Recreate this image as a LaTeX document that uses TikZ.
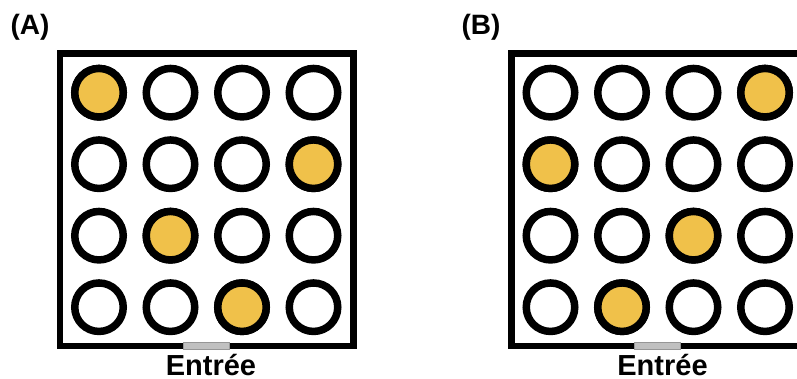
\documentclass[tikz,border=0pt]{standalone}
\usepackage{fontspec}
\setmainfont{Liberation Sans}
\begin{document}
\begin{tikzpicture}[x=1pt,y=-1pt,line join=miter]
	\definecolor{jaune}{RGB}{240,193,74}
	\definecolor{grisporte}{RGB}{192,192,192}
	\definecolor{grisbord}{RGB}{150,150,150}
	\useasboundingbox (0,0) rectangle (797,378);
	\clip (0,0) rectangle (797,378);
	
	\tikzset{puits/.style={draw=black,line width=7.5,fill=white}, %puits vide
		titre/.style={anchor=base,font=\bfseries\fontsize{28}{30}\selectfont},
		legende/.style={anchor=base,inner sep=0pt,text depth=0pt,font=\bfseries\fontsize{29}{31}\selectfont}}
	%%%%%%%%%%%%%%%%%%%%%%%%%%%%
	\tikzset{arene/.pic={
			\fill[white] (0,0) rectangle (293.5,292.5);
			\draw[line width=6.5] (0,0) rectangle (293.5,292.5); %cadre noir
			\foreach \i in {0,...,3}
			\foreach \j in {0,...,3}
			\draw[puits] (39+71.5*\i,39.2+71.5*\j) circle (24.25);
			%%%%PUITS JAUNES
			\foreach \i/\j in \pleins
			\draw[puits,fill=jaune] (39+71.5*\i,39.2+71.5*\j) circle (24.25);
			%%%%PORTE
			\draw[fill=grisporte,draw=grisbord,line width=.8] (123.3,289.2) rectangle (169.3,295.8);
	}}
	%%%%%%%%%%%%%%%%%%%%%%%%%%%%%%%%%%%%%%%%%%%%%%%%%%%%%%
	\def\pleins{0/0,3/1,1/2,2/3}
	\path (60,53.5) pic{arene};
	\def\pleins{3/0,0/1,2/2,1/3}
	\path (511.5,53.5) pic{arene};
	
	\node[titre] (titreA) at (30,34) {(A)};
	\node[titre] (titreB) at (481,34) {(B)};
	\node[legende] (entreeA) at (211,375) {Entrée};
	\node[legende] (entreeB) at (662.5,375) {Entrée};
\end{tikzpicture}
\end{document}
